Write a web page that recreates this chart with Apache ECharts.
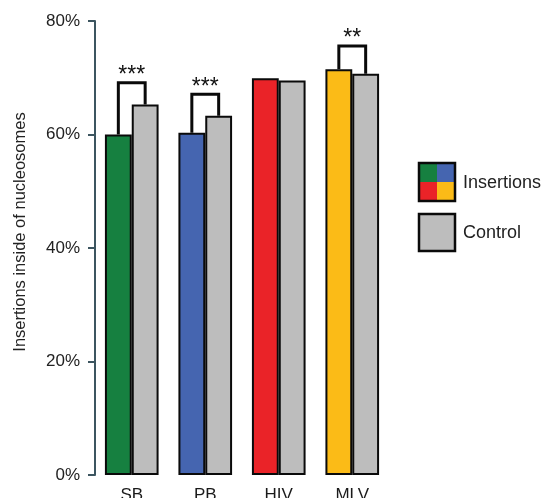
<!DOCTYPE html>
<html>
<head>
<meta charset="utf-8">
<script src="https://cdn.jsdelivr.net/npm/echarts@6/dist/echarts.min.js"></script>
<style>html,body{margin:0;padding:0;background:#fff}#c{width:545px;height:498px}</style>
</head>
<body>
<div id="c"></div>
<script>
const categories = ['SB', 'PB', 'HIV', 'MLV'];
const insertions = [60.0, 60.3, 69.9, 71.5];
const control = [65.3, 63.3, 69.5, 70.7];
const bracketTop = [69.1, 67.1, null, 75.6];
const sigStars = ['***', '***', '', '**'];
const yTicks = [0, 20, 40, 60, 80];
const insertionColors = ['#168040', '#4565b0', '#ea2328', '#fbbb17'];
const controlColor = '#bdbdbd';

const FONT = 'Liberation Sans, Arial, sans-serif';
const CAT_GAP = 0.27;

const bracketData = [];
categories.forEach((c, i) => {
  if (bracketTop[i] != null) bracketData.push([i, insertions[i], control[i], bracketTop[i], sigStars[i]]);
});

const chart = echarts.init(document.getElementById('c'));
chart.setOption({
  animation: false,
  grid: { left: 95, right: 156, top: 21, bottom: 23, containLabel: false, outerBoundsMode: 'none' },
  xAxis: {
    type: 'category',
    data: categories,
    axisLine: { show: false },
    axisTick: { show: false },
    axisLabel: { margin: 12, fontSize: 17, color: '#1a1a1a', fontFamily: FONT }
  },
  yAxis: {
    type: 'value',
    min: yTicks[0], max: yTicks[yTicks.length - 1], interval: 20,
    axisLine: { show: true, lineStyle: { color: '#3c5560', width: 2 } },
    axisTick: { show: true, inside: false, length: 7, lineStyle: { color: '#3c5560', width: 2 } },
    axisLabel: { formatter: '{value}%', fontSize: 17, color: '#222', margin: 15, fontFamily: FONT },
    splitLine: { show: false }
  },
  series: [
    {
      name: 'Insertions', type: 'bar',
      barGap: '0%', barCategoryGap: (CAT_GAP * 100) + '%',
      data: insertions.map((v, i) => ({ value: v, itemStyle: { color: insertionColors[i] } })),
      itemStyle: { borderColor: '#0a0a0a', borderWidth: 2 },
      z: 2
    },
    {
      name: 'Control', type: 'bar',
      barGap: '0%', barCategoryGap: (CAT_GAP * 100) + '%',
      data: control,
      itemStyle: { color: controlColor, borderColor: '#0a0a0a', borderWidth: 2 },
      z: 2
    },
    {
      type: 'custom',
      coordinateSystem: 'cartesian2d',
      data: bracketData,
      encode: { x: 0, y: 3 },
      z: 3,
      renderItem: function (params, api) {
        const idx = api.value(0);
        const top = api.coord([idx, api.value(3)]);
        const bandW = api.size([1, 0])[0];
        const off = bandW * (1 - CAT_GAP) / 4;
        const x1 = top[0] - off, x2 = top[0] + off;
        const yL = api.coord([idx, api.value(1)])[1];
        const yR = api.coord([idx, api.value(2)])[1];
        const label = bracketData[params.dataIndex][4];
        return {
          type: 'group',
          children: [
            {
              type: 'polyline',
              shape: { points: [[x1, yL], [x1, top[1]], [x2, top[1]], [x2, yR]] },
              style: { stroke: '#0a0a0a', lineWidth: 3, fill: null }
            },
            {
              type: 'text',
              style: {
                text: label, x: top[0], y: top[1] - 7,
                align: 'center', verticalAlign: 'middle',
                fontSize: 23, fill: '#111', fontFamily: FONT
              }
            }
          ]
        };
      }
    }
  ],
  graphic: [
    { type: 'text', rotation: Math.PI / 2, x: 20, y: 232,
      style: { text: 'Insertions inside of nucleosomes', align: 'center', verticalAlign: 'middle', fontSize: 16.5, fill: '#222', fontFamily: FONT } },
    { type: 'rect', shape: { x: 419, y: 163, width: 18, height: 19 }, style: { fill: insertionColors[0] } },
    { type: 'rect', shape: { x: 437, y: 163, width: 18, height: 19 }, style: { fill: insertionColors[1] } },
    { type: 'rect', shape: { x: 419, y: 182, width: 18, height: 19 }, style: { fill: insertionColors[2] } },
    { type: 'rect', shape: { x: 437, y: 182, width: 18, height: 19 }, style: { fill: insertionColors[3] } },
    { type: 'rect', shape: { x: 419, y: 163, width: 36, height: 38 }, style: { fill: null, stroke: '#0a0a0a', lineWidth: 2.5 } },
    { type: 'text', style: { text: 'Insertions', x: 463, y: 183, verticalAlign: 'middle', fontSize: 18, fill: '#222', fontFamily: FONT } },
    { type: 'rect', shape: { x: 419, y: 214, width: 36, height: 37 }, style: { fill: controlColor, stroke: '#0a0a0a', lineWidth: 2.5 } },
    { type: 'text', style: { text: 'Control', x: 463, y: 233, verticalAlign: 'middle', fontSize: 18, fill: '#222', fontFamily: FONT } }
  ]
});
</script>
</body>
</html>
